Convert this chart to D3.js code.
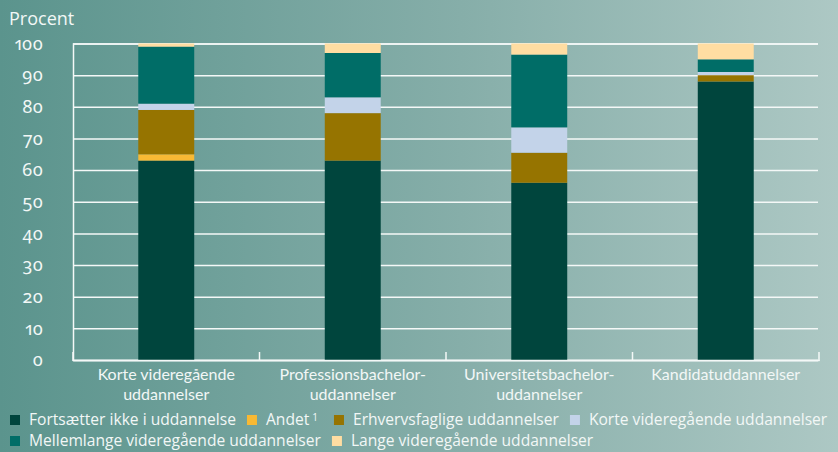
<!DOCTYPE html>
<html>
<head>
<meta charset="utf-8">
<script src="https://cdn.jsdelivr.net/npm/d3@7"></script>
<style>
  html, body { margin: 0; padding: 0; }
  body { width: 838px; height: 452px; overflow: hidden; }
  svg text { font-family: "Open Sans", "Noto Sans", sans-serif; fill: #f2f7f6; }
  .num { font-family: "Noto Sans", sans-serif; font-feature-settings: "onum" 1, "pnum" 1; font-variant-numeric: oldstyle-nums proportional-nums; }
  .cat { font-family: "Lato", sans-serif; }
</style>
</head>
<body>
<svg id="chart" width="838" height="452"></svg>
<script>
// Share of graduates by what they go on to study (percent)
const categories = [
  "Korte videregående uddannelser",
  "Professionsbachelor-uddannelser",
  "Universitetsbachelor-uddannelser",
  "Kandidatuddannelser"
];
const categoryLines = [
  ["Korte videregående", "uddannelser"],
  ["Professionsbachelor-", "uddannelser"],
  ["Universitetsbachelor-", "uddannelser"],
  ["Kandidatuddannelser"]
];
const seriesNames = [
  "Fortsætter ikke i uddannelse",
  "Andet",
  "Erhvervsfaglige uddannelser",
  "Korte videregående uddannelser",
  "Mellemlange videregående uddannelser",
  "Lange videregående uddannelser"
];
const fortsaetterIkke = [63, 63, 56, 88];
const andet = [2, 0, 0, 0];
const erhvervsfaglige = [14, 15, 9.5, 2];
const korteVideregaaende = [2, 5, 8, 1];
const mellemlange = [18, 14, 23, 4];
const lange = [1, 3, 3.5, 5];
const seriesColors = ["#00453d", "#f8b934", "#967400", "#c3d3e9", "#006d67", "#ffdda2"];
const yTicks = [0, 10, 20, 30, 40, 50, 60, 70, 80, 90, 100];

const svg = d3.select("#chart");
const W = 838, H = 452;
const margin = { left: 73, right: 19, top: 43.5, bottom: 92 };

// background wash
const defs = svg.append("defs");
const grad = defs.append("linearGradient").attr("id", "bg")
  .attr("x1", "0%").attr("y1", "0%").attr("x2", "100%").attr("y2", "0%");
grad.append("stop").attr("offset", "0%").attr("stop-color", "#5b948d");
grad.append("stop").attr("offset", "55%").attr("stop-color", "#86aea9");
grad.append("stop").attr("offset", "100%").attr("stop-color", "#adc8c4");
svg.append("rect").attr("width", W).attr("height", H).attr("fill", "url(#bg)");

const table = categories.map((c, i) => ({
  category: c,
  [seriesNames[0]]: fortsaetterIkke[i],
  [seriesNames[1]]: andet[i],
  [seriesNames[2]]: erhvervsfaglige[i],
  [seriesNames[3]]: korteVideregaaende[i],
  [seriesNames[4]]: mellemlange[i],
  [seriesNames[5]]: lange[i]
}));
const stacked = d3.stack().keys(seriesNames)(table);

const x = d3.scaleBand().domain(categories)
  .range([margin.left, W - margin.right])
  .paddingInner(0.7).paddingOuter(0.35);
const y = d3.scaleLinear().domain([0, 100]).range([H - margin.bottom, margin.top]);
const color = d3.scaleOrdinal().domain(seriesNames).range(seriesColors);

// y axis with gridlines
const yAxis = svg.append("g")
  .attr("transform", `translate(${margin.left},0)`)
  .call(d3.axisLeft(y).tickValues(yTicks)
    .tickSize(-(W - margin.right - margin.left - 1))
    .tickPadding(30));
yAxis.select(".domain").attr("stroke", "#f4f8f7").attr("stroke-width", 1.5);
yAxis.selectAll(".tick line").attr("stroke", "#f4f8f7").attr("stroke-width", 1.5);
yAxis.selectAll(".tick text")
  .attr("class", "num")
  .attr("font-size", 18)
  .attr("fill", "#f2f7f6");

svg.append("text").attr("x", 9).attr("y", 25)
  .attr("font-size", 18).text("Procent");

// stacked bars
svg.append("g").selectAll("g").data(stacked).join("g")
  .attr("fill", d => color(d.key))
  .selectAll("rect").data(d => d).join("rect")
  .attr("x", d => x(d.data.category))
  .attr("width", x.bandwidth())
  .attr("y", d => y(d[1]))
  .attr("height", d => y(d[0]) - y(d[1]));

// x axis: baseline and category separators
const xAxis = svg.append("g")
  .attr("transform", `translate(0,${y(0)})`)
  .call(d3.axisBottom(x).tickSize(0).tickFormat(""));
xAxis.select(".domain").attr("stroke", "#f4f8f7").attr("stroke-width", 1.5);
const bounds = d3.range(categories.length + 1).map(i => margin.left + i * x.step());
xAxis.selectAll("line.sep").data(bounds).join("line")
  .attr("class", "sep")
  .attr("x1", d => d).attr("x2", d => d)
  .attr("y1", -8).attr("y2", 1)
  .attr("stroke", "#f4f8f7").attr("stroke-width", 1.5);

// category labels, one text per line
const labelRows = categories.flatMap((c, i) =>
  categoryLines[i].map((line, j) => ({ c, line, j })));
svg.append("g").selectAll("text").data(labelRows).join("text")
  .attr("class", "cat")
  .attr("text-anchor", "middle")
  .attr("font-size", 16)
  .attr("x", d => x(d.c) + x.bandwidth() / 2)
  .attr("y", d => y(0) + 20 + d.j * 19.5)
  .text(d => d.line);

// legend (flowing rows)
const legend = svg.append("g");
let lx = 10, ly = 420;
const rowH = 21, maxX = W - 2;
seriesNames.forEach((name, i) => {
  const item = legend.append("g");
  item.append("rect").attr("width", 10).attr("height", 10)
    .attr("y", -5).attr("fill", seriesColors[i]);
  const t = item.append("text").attr("x", 19).attr("dy", "0.35em")
    .attr("font-size", 15.6).text(name);
  if (name === "Andet") {
    t.append("tspan").attr("dy", "-0.45em").attr("dx", 3)
      .attr("font-size", 10).text("1");
  }
  const w = 19 + t.node().getComputedTextLength() + (name === "Andet" ? 8 : 0);
  if (lx + w > maxX) { lx = 10; ly += rowH; }
  item.attr("transform", `translate(${lx},${ly})`);
  lx += w + 11;
});
</script>
</body>
</html>
